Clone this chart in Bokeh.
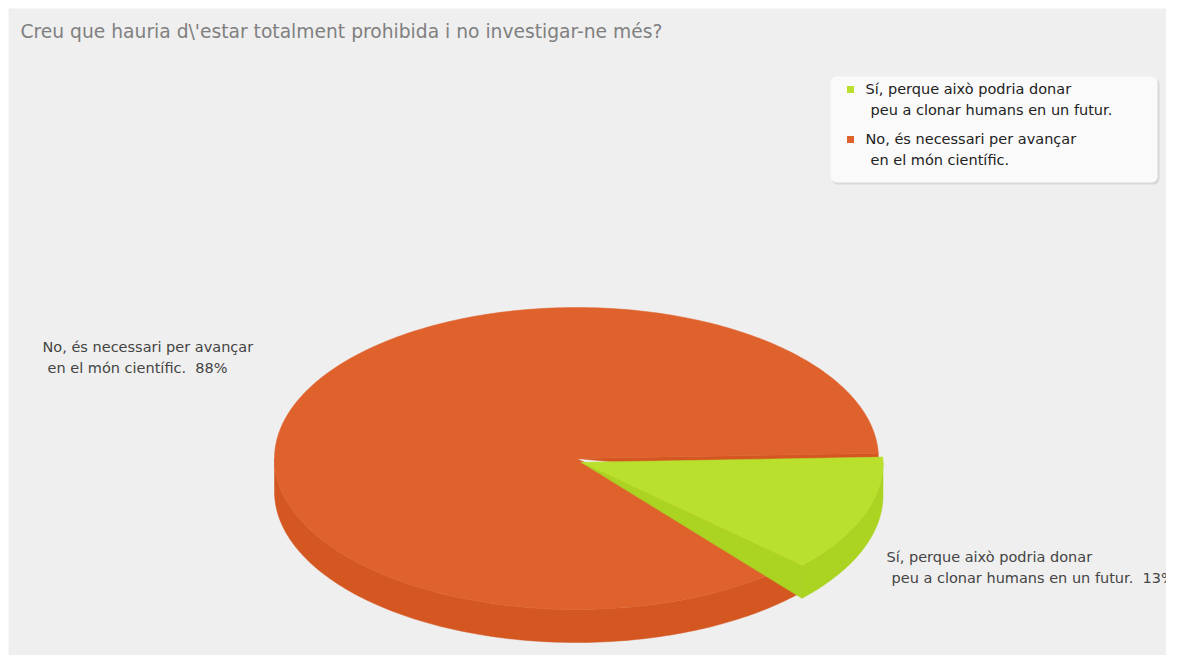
import numpy as np
from bokeh.plotting import figure
from bokeh.models import Range1d, BoxAnnotation
from bokeh.embed import file_html
from bokeh.resources import INLINE
from bokeh.core.properties import value

# ---------------- data ----------------
title_text = "Creu que hauria d\\'estar totalment prohibida i no investigar-ne més?"
categories = ["Sí, perque això podria donar\n peu a clonar humans en un futur.",
              "No, és necessari per avançar\n en el món científic."]
shares = [12.5, 87.5]
pct_labels = ["13%", "88%"]
top_colors = ["#b9e02d", "#df622d"]
side_colors = ["#abd322", "#d45722"]
explode = [0.016, 0.0]

# ---------------- layout ----------------
W, H = 1166, 655
FONT = "DejaVu Sans"
p = figure(width=W, height=H, x_range=Range1d(8, W), y_range=Range1d(H, 8),
           output_backend="svg", toolbar_location=None,
           x_axis_location=None, y_axis_location=None,
           min_border_left=8, min_border_top=8, min_border_right=0, min_border_bottom=0)
p.grid.visible = False
p.outline_line_color = None
p.background_fill_color = "#efefef"
p.border_fill_color = "white"

cx, cy, rx, ry, depth = 576, 458, 302, 151, 33
start_angle = np.radians(2.0)

def pt(theta, ox=0.0, oy=0.0, dz=0.0):
    return cx + ox + rx * np.cos(theta), cy + oy - ry * np.sin(theta) + dz

# slice angular spans (clockwise from start)
spans = []
a = start_angle
for s in shares:
    ang = s / sum(shares) * 2 * np.pi
    spans.append((a - ang, a))
    a -= ang

order = [1, 0]
for i in order:
    a0, a1 = spans[i]
    mid = 0.5 * (a0 + a1)
    ox = explode[i] * rx * np.cos(mid)
    oy = -explode[i] * ry * np.sin(mid) + (3 if explode[i] else 0)
    vx, vy = cx + ox, cy + oy
    xs_list, ys_list = [], []
    # visible outer walls (front half)
    for k in (-1, 0, 1):
        lo = max(a0, np.pi + 2 * np.pi * k)
        hi = min(a1, 2 * np.pi + 2 * np.pi * k)
        if hi > lo:
            th = np.linspace(lo, hi, 120)
            tx, ty = pt(th, ox, oy)
            bx, by = pt(th[::-1], ox, oy, depth)
            xs_list.append(list(tx) + list(bx))
            ys_list.append(list(ty) + list(by))
    # visible cut faces
    for edge, vis in ((a0, np.cos(a0) > 0), (a1, np.cos(a1) < 0)):
        if vis:
            tx, ty = pt(edge, ox, oy)
            bx, by = pt(edge, ox, oy, depth)
            xs_list.append([vx, tx, bx])
            ys_list.append([vy, ty, by])
    if xs_list:
        p.patches(xs_list, ys_list, fill_color=side_colors[i], line_color=side_colors[i], line_width=0.5)
    th = np.linspace(a0, a1, 300)
    tx, ty = pt(th, ox, oy)
    p.patch([vx] + list(tx), [vy] + list(ty), fill_color=top_colors[i],
            line_color=top_colors[i], line_width=0.5)

LINE_H = 21.5
INDENT = 5
LBL_SIZE = "14.5px"

def draw_lines(x, y_first, lines, color, level="glyph"):
    for j, ln in enumerate(lines):
        p.text(x=[x + (INDENT if j else 0)], y=[y_first + j * LINE_H], text=[ln.strip()],
               text_font=value(FONT), text_font_size=LBL_SIZE, text_color=color,
               text_baseline="middle", text_align="left", level=level)

# slice labels
label_offsets = {0: (310, 98), 1: (-534, -112)}
for i in range(len(categories)):
    dx, dy = label_offsets[i]
    lines = categories[i].split("\n")
    lines[-1] = lines[-1].strip() + "\u00a0\u00a0" + pct_labels[i]
    draw_lines(cx + dx, cy + dy, lines, "#444444")

# title
p.text(x=[20], y=[31], text=[title_text], text_font=value(FONT), text_font_size="18.7px",
       text_color="#808080", text_baseline="middle", text_align="left")

# legend
p.add_layout(BoxAnnotation(left=831, right=1159, top=78, bottom=184, fill_color="#d8d8d8",
                           fill_alpha=1, line_color=None, border_radius=6, level="underlay"))
p.add_layout(BoxAnnotation(left=830, right=1157, top=76, bottom=182, fill_color="#fafafa",
                           fill_alpha=1, line_color=None, border_radius=6, level="underlay"))
for i in range(len(categories)):
    ly = 89 + 50 * i
    p.scatter(x=[850], y=[ly], marker="square", size=7, fill_color=top_colors[i],
              line_color=None)
    draw_lines(865, ly - 1, categories[i].split("\n"), "#222222")

open("out.html", "w").write(file_html(p, INLINE))
